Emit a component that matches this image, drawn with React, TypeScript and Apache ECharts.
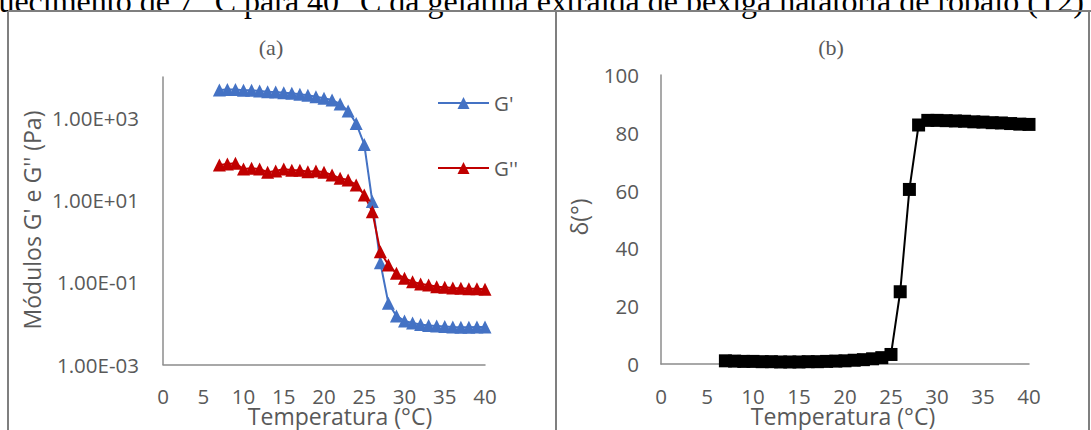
import React, { useEffect, useRef } from "react";
import * as echarts from "echarts";

// Temperatura (°C)
const temperatures = [7, 8, 9, 10, 11, 12, 13, 14, 15, 16, 17, 18, 19, 20, 21, 22, 23, 24, 25, 26, 27, 28, 29, 30, 31, 32, 33, 34, 35, 36, 37, 38, 39, 40];

// G' (Pa)
const gPrime = [4830, 4970, 4970, 4780, 4740, 4560, 4390, 4320, 4150, 4010, 3790, 3580, 3310, 3030, 2750, 2200, 1490, 738, 228, 9.31, 0.301, 0.0309, 0.0152, 0.0115, 0.0102, 0.00942, 0.00891, 0.00865, 0.00841, 0.00818, 0.00809, 0.00809, 0.00818, 0.00818];

// G'' (Pa)
const gDoublePrime = [72.1, 76.2, 79.3, 57.5, 59.8, 57.5, 47.9, 51.4, 57.5, 53.5, 53.5, 49.5, 51.4, 47.9, 41.1, 34.1, 31.0, 23.5, 13.4, 5.26, 0.558, 0.265, 0.166, 0.126, 0.104, 0.0912, 0.0863, 0.0783, 0.0759, 0.073, 0.0716, 0.0701, 0.0701, 0.0678];

// δ (°)
const delta = [1.1, 1.0, 0.9, 0.9, 0.8, 0.8, 0.7, 0.7, 0.7, 0.8, 0.8, 0.9, 1.0, 1.1, 1.3, 1.5, 1.8, 2.2, 3.3, 25.0, 60.4, 82.7, 84.3, 84.3, 84.2, 84.1, 84.0, 83.8, 83.7, 83.5, 83.4, 83.2, 83.0, 82.9];

const logTickLabels = ["1.00E-03", "1.00E-01", "1.00E+01", "1.00E+03"];
const deltaTicks = [0, 20, 40, 60, 80, 100];

const titleText = "aquecimento de 7 °C para 40 °C da gelatina extraída de bexiga natatória de robalo (T2)";

const FONT = "'Open Sans', 'Noto Sans', sans-serif";
const SERIF = "'Liberation Serif', 'Times New Roman', serif";
const GRAY = "#595959";
const AXIS = "#8c8c8c";
const FRAME = "#7f7f7f";

export default function App() {
  const ref = useRef<HTMLDivElement>(null);
  useEffect(() => {
    if (!ref.current) return;
    const chart = echarts.init(ref.current, undefined, { renderer: "svg" });
    const pair = (ys: number[]) => temperatures.map((t, i) => [t, ys[i]]);
    const logFormatter = (v: number) => {
      const e = Math.round(Math.log10(v));
      const s = "1.00E" + (e < 0 ? "-" : "+") + String(Math.abs(e)).padStart(2, "0");
      return logTickLabels.indexOf(s) >= 0 ? s : "";
    };
    const xAxisCommon = {
      type: "value" as const,
      min: 0,
      max: 40,
      interval: 5,
      axisLine: { show: true, lineStyle: { color: AXIS, width: 1.5 } },
      axisTick: { show: false },
      splitLine: { show: false },
      axisLabel: { color: GRAY, fontSize: 20.5, fontFamily: FONT, margin: 21 },
    };
    chart.setOption({
      animation: false,
      backgroundColor: "#ffffff",
      grid: [
        { left: 163, top: 77, width: 322, height: 287.5 },
        { left: 661, top: 75, width: 368, height: 289 },
      ],
      xAxis: [
        { ...xAxisCommon, gridIndex: 0 },
        { ...xAxisCommon, gridIndex: 1 },
      ],
      yAxis: [
        {
          type: "log",
          logBase: 10,
          gridIndex: 0,
          min: 0.001,
          max: 10000,
          axisLine: { show: true, lineStyle: { color: AXIS, width: 1.5 } },
          axisTick: { show: false },
          minorTick: { show: false },
          splitLine: { show: false },
          axisLabel: { color: GRAY, fontSize: 20.5, fontFamily: FONT, margin: 24, formatter: logFormatter },
        },
        {
          type: "value",
          gridIndex: 1,
          min: deltaTicks[0],
          max: deltaTicks[deltaTicks.length - 1],
          interval: 20,
          axisLine: { show: true, lineStyle: { color: AXIS, width: 1.5 } },
          axisTick: { show: false },
          splitLine: { show: false },
          axisLabel: { color: GRAY, fontSize: 20.5, fontFamily: FONT, margin: 22 },
        },
      ],
      legend: {
        orient: "vertical",
        left: 437,
        top: 91,
        itemWidth: 51,
        itemHeight: 15,
        itemGap: 41,
        padding: 0,
        data: ["G'", "G''"],
        textStyle: { color: GRAY, fontSize: 20.5, fontFamily: FONT, lineHeight: 24 },
      },
      series: [
        {
          name: "G'",
          type: "line",
          xAxisIndex: 0,
          yAxisIndex: 0,
          data: pair(gPrime),
          symbol: "triangle",
          symbolSize: 13,
          itemStyle: { color: "#4472C4" },
          lineStyle: { color: "#4472C4", width: 2 },
        },
        {
          name: "G''",
          type: "line",
          xAxisIndex: 0,
          yAxisIndex: 0,
          data: pair(gDoublePrime),
          symbol: "triangle",
          symbolSize: 13,
          itemStyle: { color: "#C00000" },
          lineStyle: { color: "#C00000", width: 2 },
        },
        {
          name: "δ",
          type: "line",
          xAxisIndex: 1,
          yAxisIndex: 1,
          data: pair(delta),
          symbol: "rect",
          symbolSize: 13,
          itemStyle: { color: "#000000" },
          lineStyle: { color: "#000000", width: 2 },
        },
      ],
      graphic: [
        { type: "line", shape: { x1: 8, y1: 11, x2: 1091, y2: 11 }, style: { stroke: FRAME, lineWidth: 2 } },
        { type: "line", shape: { x1: 8, y1: 11, x2: 8, y2: 430 }, style: { stroke: FRAME, lineWidth: 2 } },
        { type: "line", shape: { x1: 556, y1: 11, x2: 556, y2: 430 }, style: { stroke: FRAME, lineWidth: 2 } },
        { type: "line", shape: { x1: 1089, y1: 11, x2: 1089, y2: 430 }, style: { stroke: FRAME, lineWidth: 2 } },
        {
          type: "text",
          x: 1084,
          y: 17,
          z: -1,
          style: { text: titleText, fill: "#000000", font: "32px " + SERIF, textAlign: "right", textVerticalAlign: "bottom" },
        },
        {
          type: "text",
          x: 271,
          y: 47,
          style: { text: "(a)", fill: GRAY, font: "22px " + SERIF, textAlign: "center", textVerticalAlign: "middle" },
        },
        {
          type: "text",
          x: 831,
          y: 47,
          style: { text: "(b)", fill: GRAY, font: "22px " + SERIF, textAlign: "center", textVerticalAlign: "middle" },
        },
        {
          type: "text",
          x: 340,
          y: 416,
          style: { text: "Temperatura (°C)", fill: GRAY, font: "23px " + FONT, textAlign: "center", textVerticalAlign: "middle" },
        },
        {
          type: "text",
          x: 843,
          y: 416,
          style: { text: "Temperatura (°C)", fill: GRAY, font: "23px " + FONT, textAlign: "center", textVerticalAlign: "middle" },
        },
        {
          type: "text",
          x: 32,
          y: 220,
          rotation: Math.PI / 2,
          style: { text: "Módulos G' e G'' (Pa)", fill: GRAY, font: "23px " + FONT, textAlign: "center", textVerticalAlign: "middle" },
        },
        {
          type: "text",
          x: 579,
          y: 217,
          rotation: Math.PI / 2,
          style: { text: "δ(°)", fill: GRAY, font: "23px " + FONT, textAlign: "center", textVerticalAlign: "middle" },
        },
      ],
    });
    return () => chart.dispose();
  }, []);
  return (
    <div
      ref={ref}
      style={{ position: "absolute", left: 0, top: 0, width: 1091, height: 430, background: "#fff" }}
    />
  );
}
